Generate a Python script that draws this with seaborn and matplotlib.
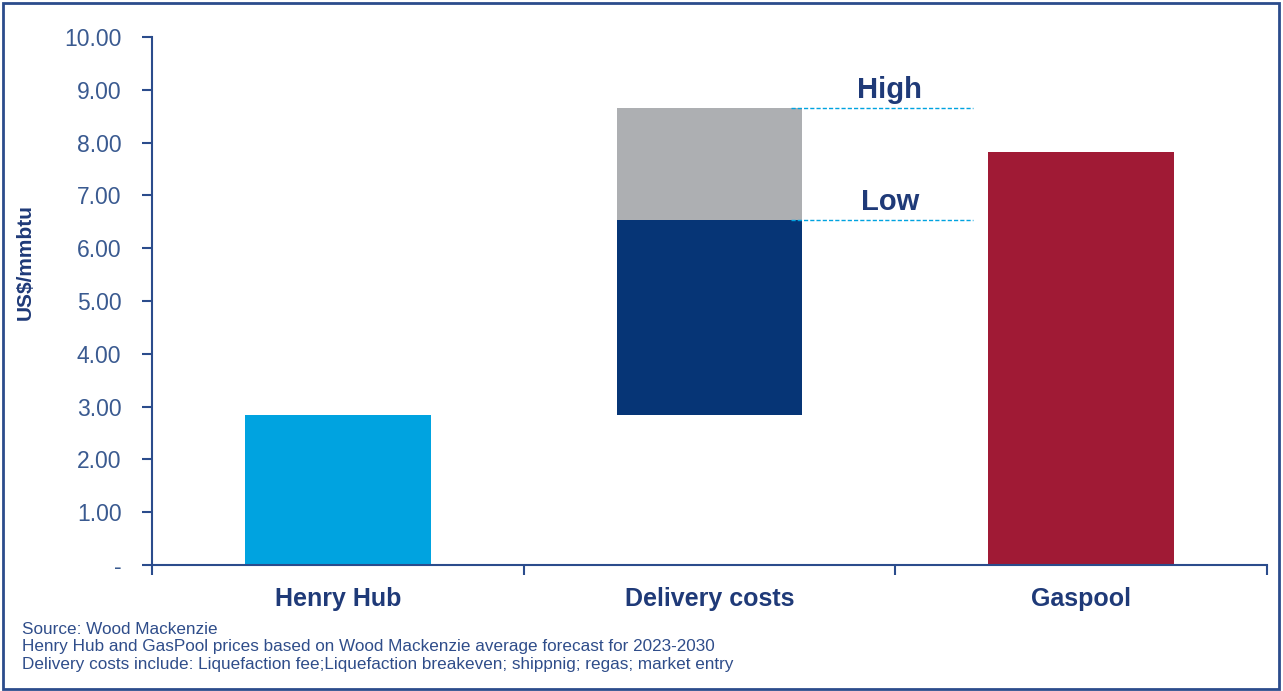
import numpy as np
import pandas as pd
import matplotlib.pyplot as plt
import seaborn as sns
from matplotlib.patches import Rectangle

categories = ["Henry Hub", "Delivery costs", "Gaspool"]
henry_hub = 2.85
delivery_low = 6.53
delivery_high = 8.66
gaspool = 7.82
y_ticks = [0, 1, 2, 3, 4, 5, 6, 7, 8, 9, 10]
notes = ["Source: Wood Mackenzie",
         "Henry Hub and GasPool prices based on Wood Mackenzie average forecast for 2023-2030",
         "Delivery costs include: Liquefaction fee;Liquefaction breakeven; shippnig; regas; market entry"]

c_hh = "#00a3e0"
c_low = "#063576"
c_high = "#adafb2"
c_gas = "#a01a35"
navy = "#1f3a78"
tick_col = "#3a5a90"

sns.set_style("white")
plt.rcParams['font.family'] = ['Liberation Sans', 'DejaVu Sans']

fig = plt.figure(figsize=(12.83, 6.91), dpi=100)
ax = fig.add_axes([152/1283, 1-565/691, (1267-152)/1283, (565-37)/691])

# base segments
df = pd.DataFrame({"cat": categories,
                   "height": [henry_hub, delivery_low - henry_hub, gaspool],
                   "bottom": [0, henry_hub, 0]})
sns.barplot(data=df, x="cat", y="height", order=categories, bottom=df["bottom"].values,
            width=0.5, color=c_hh, saturation=1, ax=ax)
for p, c in zip(ax.patches, [c_hh, c_low, c_gas]):
    p.set_facecolor(c)
    p.set_edgecolor("none")

# high range on top of delivery costs
top = pd.DataFrame({"cat": ["Delivery costs"], "height": [delivery_high - delivery_low]})
sns.barplot(data=top, x="cat", y="height", order=categories, bottom=delivery_low,
            width=0.5, color=c_high, saturation=1, ax=ax)
ax.patches[-1].set_edgecolor("none")

# high / low markers
for val, lab in [(delivery_high, "High"), (delivery_low, "Low")]:
    ax.plot([1.22, 1.71], [val, val], ls=(0, (3, 1.5)), lw=1, color=c_hh)
    ax.text(1.485, val + 0.34, lab, ha="center", va="center", fontsize=21,
            fontweight="bold", color=navy)

ax.set_xlim(-0.5, 2.5)
ax.set_ylim(0, 10)
ax.set_yticks(y_ticks)
ax.set_yticklabels(["-"] + ["%.2f" % v for v in y_ticks[1:]])
ax.set_xticks(range(3))
ax.set_xticklabels(categories)
ax.set_xticks([-0.5, 0.5, 1.5, 2.5], minor=True)
ax.tick_params(axis="x", which="major", length=0, pad=16, labelsize=18,
               labelcolor=navy)
ax.tick_params(axis="x", which="minor", length=7, width=1.5, color="#2b4c8c",
               direction="out", bottom=True)
ax.tick_params(axis="y", length=7, width=1.5, color="#2b4c8c", direction="out",
               left=True, pad=15, labelsize=16.5, labelcolor=tick_col)
for lbl in ax.get_xticklabels():
    lbl.set_fontweight("bold")
ax.set_xlabel("")
ax.set_ylabel("US$/mmbtu", fontsize=15, fontweight="bold", color=navy)
ax.yaxis.set_label_coords(-0.105, 0.574)

for s in ["top", "right"]:
    ax.spines[s].set_visible(False)
for s in ["left", "bottom"]:
    ax.spines[s].set_color("#2b4c8c")
    ax.spines[s].set_linewidth(1.5)

for i, t in enumerate(notes):
    fig.text(22/1283, 1 - (630 + 17*i)/691, t, fontsize=12.3, color="#2f4d8a",
             va="center", ha="left")

fig.patches.append(Rectangle((0.002, 0.003), 0.995, 0.993, transform=fig.transFigure,
                             fill=False, edgecolor="#2b4c8c", lw=2))

fig.savefig("out.png", dpi=100)
